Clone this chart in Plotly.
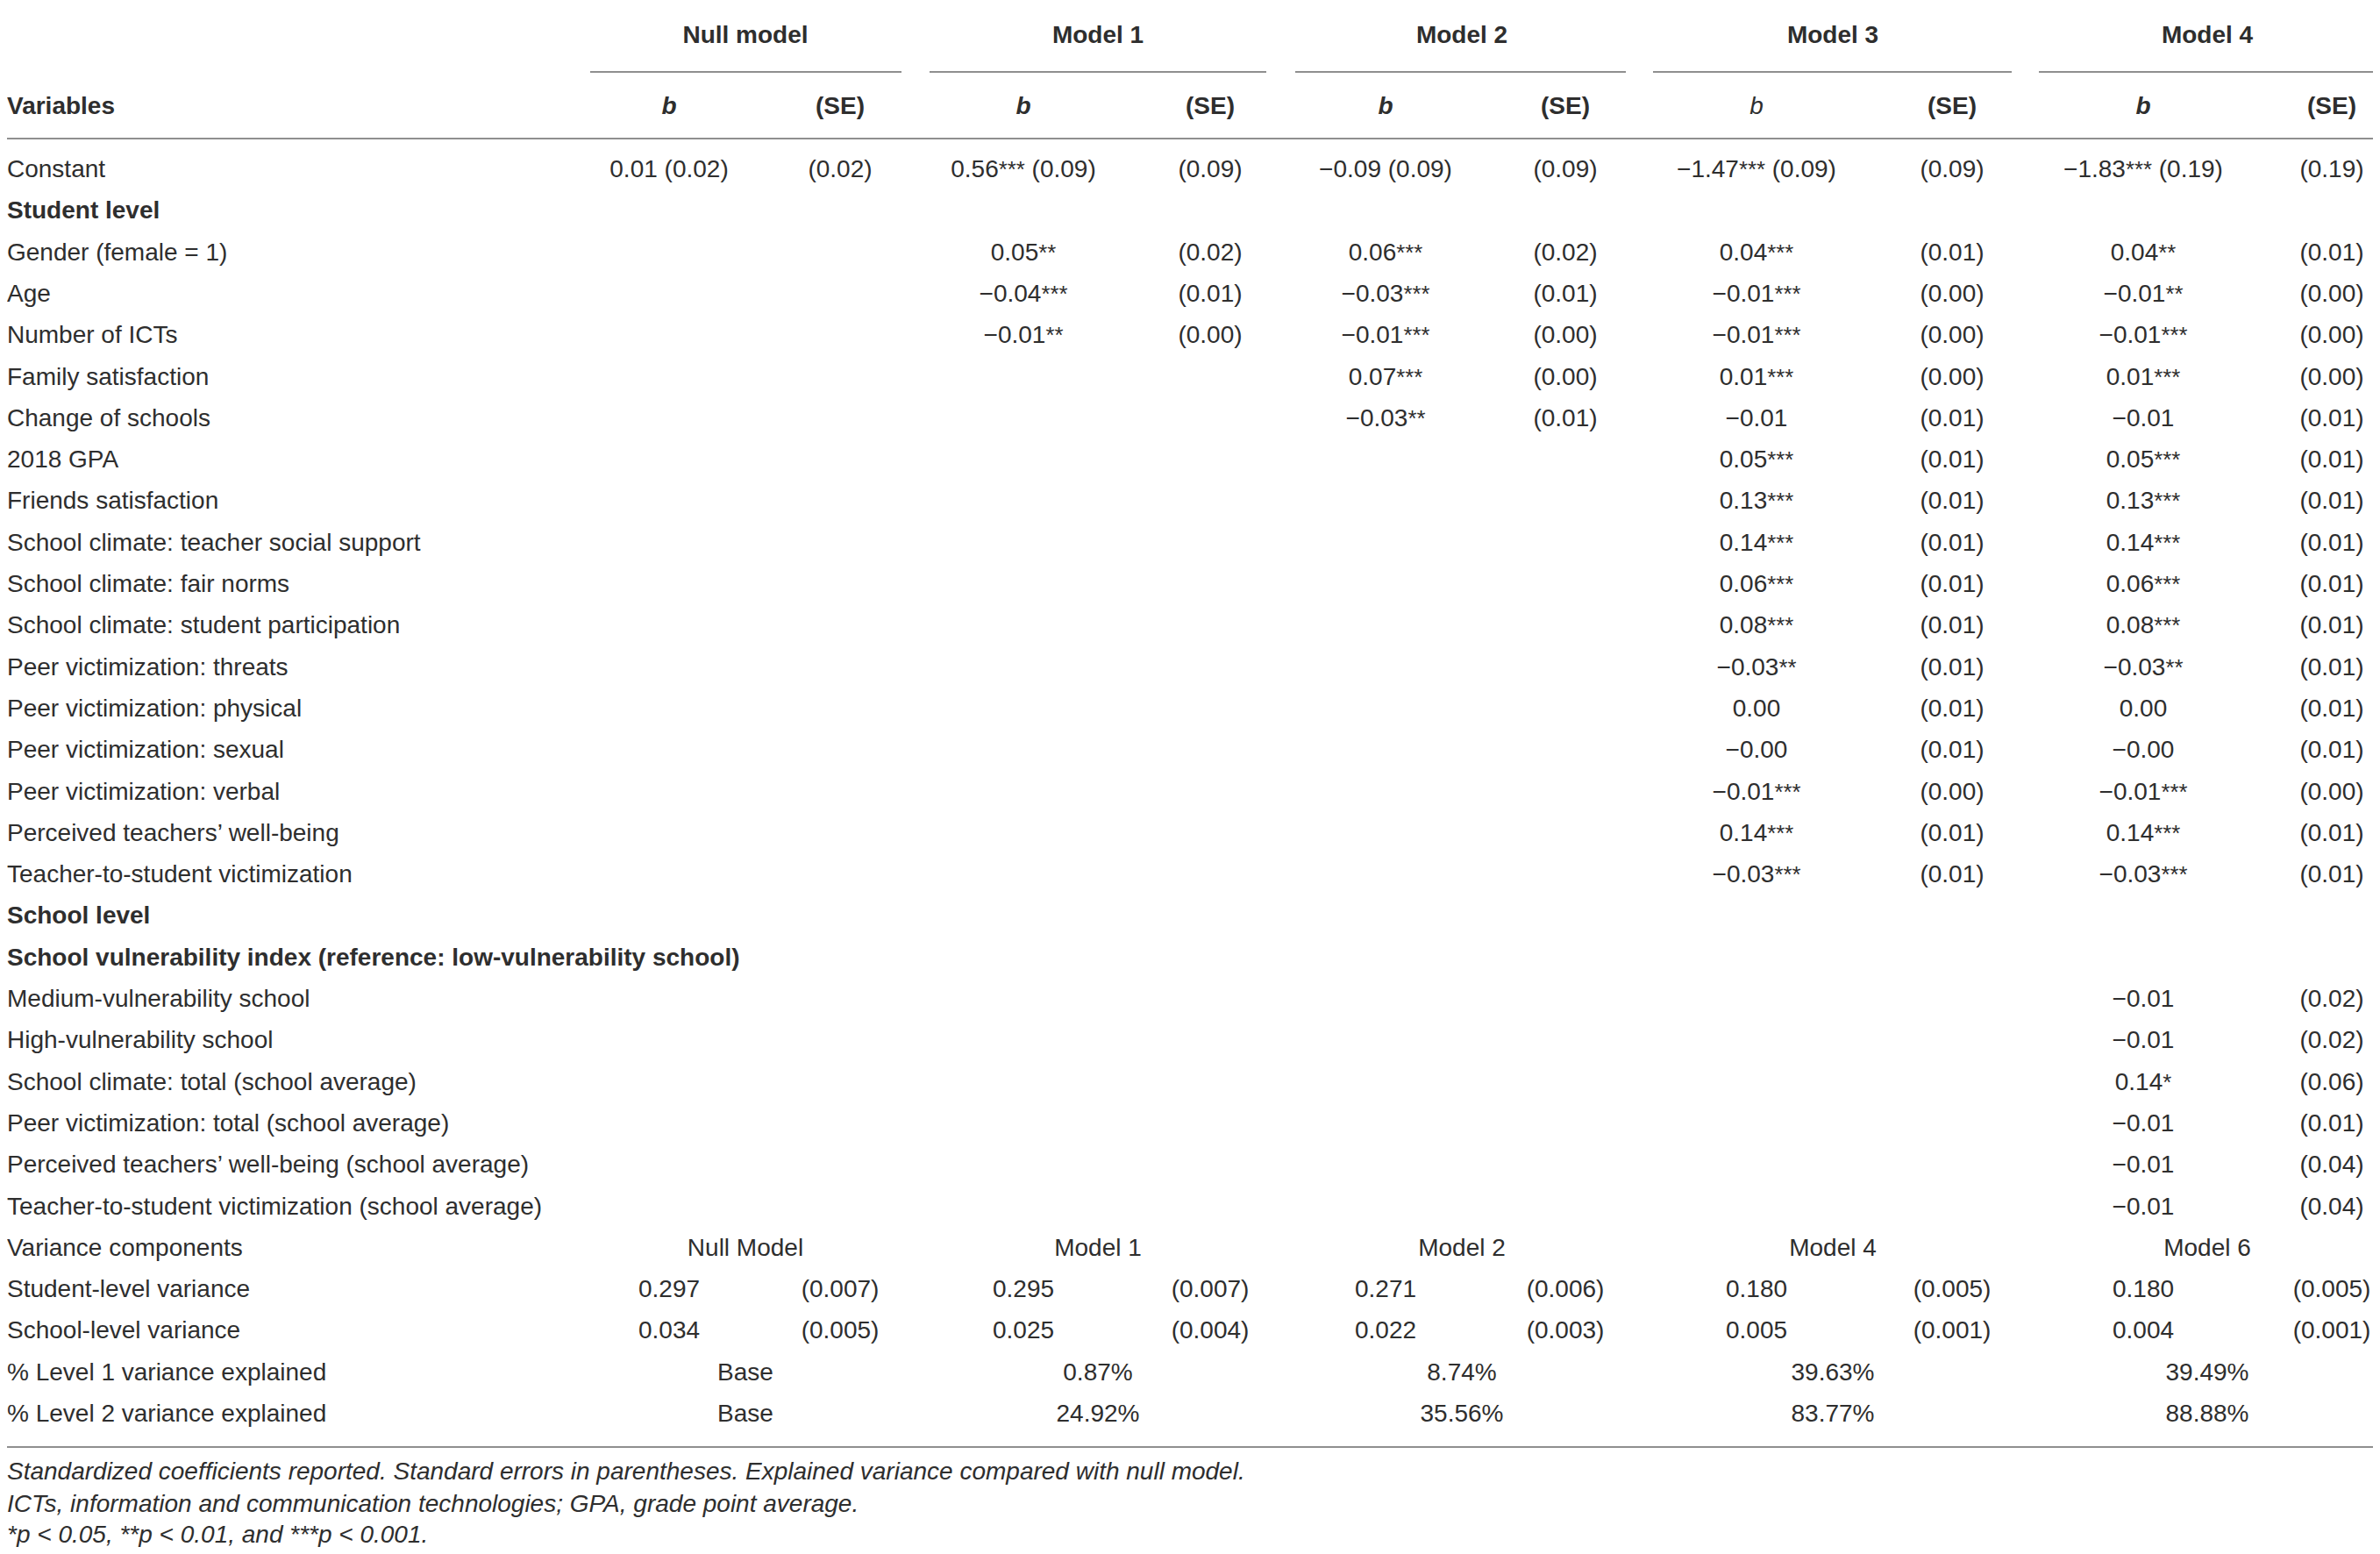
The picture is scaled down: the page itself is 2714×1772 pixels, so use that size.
#!/usr/bin/env python3
"""Multilevel regression table (null model to model 4), drawn as text marks
on a pixel-scaled Plotly canvas so the layout follows the printed table."""
import plotly.graph_objects as go

# ----- table content -----
MODEL_NAMES = ["Null model", "Model 1", "Model 2", "Model 3", "Model 4"]
VARIANCE_MODEL_NAMES = ["Null Model", "Model 1", "Model 2", "Model 4", "Model 6"]

ROW_LABELS = [
    "Constant", "Student level", "Gender (female = 1)", "Age", "Number of ICTs",
    "Family satisfaction", "Change of schools", "2018 GPA", "Friends satisfaction",
    "School climate: teacher social support", "School climate: fair norms",
    "School climate: student participation", "Peer victimization: threats",
    "Peer victimization: physical", "Peer victimization: sexual",
    "Peer victimization: verbal", "Perceived teachers\u2019 well-being",
    "Teacher-to-student victimization", "School level",
    "School vulnerability index (reference: low-vulnerability school)",
    "Medium-vulnerability school", "High-vulnerability school",
    "School climate: total (school average)", "Peer victimization: total (school average)",
    "Perceived teachers\u2019 well-being (school average)",
    "Teacher-to-student victimization (school average)",
    "Variance components", "Student-level variance", "School-level variance",
    "% Level 1 variance explained", "% Level 2 variance explained",
]
SECTION_ROWS = ["Student level", "School level",
                "School vulnerability index (reference: low-vulnerability school)"]

M = "\u2212"
# coefficient rows, aligned with ROW_LABELS[0:26]; "" = empty cell
NULL_B = ["0.01 (0.02)"]
NULL_SE = ["(0.02)"]
M1_B = ["0.56*** (0.09)", "", "0.05**", M + "0.04***", M + "0.01**"]
M1_SE = ["(0.09)", "", "(0.02)", "(0.01)", "(0.00)"]
M2_B = [M + "0.09 (0.09)", "", "0.06***", M + "0.03***", M + "0.01***", "0.07***", M + "0.03**"]
M2_SE = ["(0.09)", "", "(0.02)", "(0.01)", "(0.00)", "(0.00)", "(0.01)"]
M3_B = [M + "1.47*** (0.09)", "", "0.04***", M + "0.01***", M + "0.01***", "0.01***",
        M + "0.01", "0.05***", "0.13***", "0.14***", "0.06***", "0.08***", M + "0.03**",
        "0.00", M + "0.00", M + "0.01***", "0.14***", M + "0.03***"]
M3_SE = ["(0.09)", "", "(0.01)", "(0.00)", "(0.00)", "(0.00)", "(0.01)", "(0.01)", "(0.01)",
         "(0.01)", "(0.01)", "(0.01)", "(0.01)", "(0.01)", "(0.01)", "(0.00)", "(0.01)", "(0.01)"]
M4_B = [M + "1.83*** (0.19)", "", "0.04**", M + "0.01**", M + "0.01***", "0.01***",
        M + "0.01", "0.05***", "0.13***", "0.14***", "0.06***", "0.08***", M + "0.03**",
        "0.00", M + "0.00", M + "0.01***", "0.14***", M + "0.03***", "", "",
        M + "0.01", M + "0.01", "0.14*", M + "0.01", M + "0.01", M + "0.01"]
M4_SE = ["(0.19)", "", "(0.01)", "(0.00)", "(0.00)", "(0.00)", "(0.01)", "(0.01)", "(0.01)",
         "(0.01)", "(0.01)", "(0.01)", "(0.01)", "(0.01)", "(0.01)", "(0.00)", "(0.01)", "(0.01)",
         "", "", "(0.02)", "(0.02)", "(0.06)", "(0.01)", "(0.04)", "(0.04)"]

# variance components, one value per model
STUDENT_VAR = ["0.297", "0.295", "0.271", "0.180", "0.180"]
STUDENT_VAR_SE = ["(0.007)", "(0.007)", "(0.006)", "(0.005)", "(0.005)"]
SCHOOL_VAR = ["0.034", "0.025", "0.022", "0.005", "0.004"]
SCHOOL_VAR_SE = ["(0.005)", "(0.004)", "(0.003)", "(0.001)", "(0.001)"]
L1_EXPLAINED = ["Base", "0.87%", "8.74%", "39.63%", "39.49%"]
L2_EXPLAINED = ["Base", "24.92%", "35.56%", "83.77%", "88.88%"]

FOOTNOTES = [
    "Standardized coefficients reported. Standard errors in parentheses. "
    "Explained variance compared with null model.",
    "ICTs, information and communication technologies; GPA, grade point average.",
    "*p &lt; 0.05, **p &lt; 0.01, and ***p &lt; 0.001.",
]

# ----- geometry (reference pixels) -----
W, H = 2714, 1772
PAGE_PAD = 8          # default body margin of the html page
LEFT = 8
B_X = [763, 1167, 1580, 2003, 2444]
SE_X = [958, 1380, 1785, 2226, 2659]
GROUP_X = [850, 1252, 1667, 2090, 2517]
UNDERLINES = [(673, 1028), (1060, 1444), (1477, 1854), (1885, 2294), (2325, 2706)]
B_HEAD_BOLD = [True, True, True, False, True]
Y_MODEL, Y_HEAD, Y_ROW0, DY = 42, 123, 195, 47.3
Y_FOOT = [1680, 1717, 1752]

FONT = "Liberation Sans, Arial, Helvetica, sans-serif"
SIZE = 28
INK = "#2e2e2e"
RULE = "#8f8f8f"


def fmt(v):
    """significance stars set a little smaller, as in the print"""
    head, sep, tail = v.partition(" ")
    core = head.rstrip("*")
    stars = head[len(core):]
    out = core + (f'<span style="font-size:92%">{stars}</span>' if stars else "")
    return out + (sep + tail if sep else "")


def row_y(i):
    return Y_ROW0 + i * DY


def text_trace(xs, ys, texts, pos="middle center", size=SIZE):
    return go.Scatter(x=xs, y=ys, text=texts, mode="text", textposition=pos,
                      textfont=dict(family=FONT, size=size, color=INK),
                      hoverinfo="skip", showlegend=False, cliponaxis=False)


fig = go.Figure()

# header
fig.add_trace(text_trace(GROUP_X, [Y_MODEL] * 5, [f"<b>{m}</b>" for m in MODEL_NAMES]))
fig.add_trace(text_trace([LEFT], [Y_HEAD], ["<b>Variables</b>"], pos="middle right"))
fig.add_trace(text_trace(B_X, [Y_HEAD] * 5,
                         ["<b><i>b</i></b>" if bold else "<i>b</i>" for bold in B_HEAD_BOLD]))
fig.add_trace(text_trace(SE_X, [Y_HEAD] * 5, ["<b>(SE)</b>"] * 5))

# row labels
labels = [f"<b>{r}</b>" if r in SECTION_ROWS else r for r in ROW_LABELS]
fig.add_trace(text_trace([LEFT] * len(labels), [row_y(i) for i in range(len(labels))],
                         labels, pos="middle right"))

# coefficients
for k, (bs, ses) in enumerate([(NULL_B, NULL_SE), (M1_B, M1_SE), (M2_B, M2_SE),
                               (M3_B, M3_SE), (M4_B, M4_SE)]):
    idx = [i for i, v in enumerate(bs) if v]
    fig.add_trace(text_trace([B_X[k]] * len(idx), [row_y(i) for i in idx],
                             [fmt(bs[i]) for i in idx]))
    idx = [i for i, v in enumerate(ses) if v]
    fig.add_trace(text_trace([SE_X[k]] * len(idx), [row_y(i) for i in idx],
                             [ses[i] for i in idx]))

# variance components block
r0 = ROW_LABELS.index("Variance components")
fig.add_trace(text_trace(GROUP_X, [row_y(r0)] * 5, VARIANCE_MODEL_NAMES))
fig.add_trace(text_trace(B_X, [row_y(r0 + 1)] * 5, STUDENT_VAR))
fig.add_trace(text_trace(SE_X, [row_y(r0 + 1)] * 5, STUDENT_VAR_SE))
fig.add_trace(text_trace(B_X, [row_y(r0 + 2)] * 5, SCHOOL_VAR))
fig.add_trace(text_trace(SE_X, [row_y(r0 + 2)] * 5, SCHOOL_VAR_SE))
fig.add_trace(text_trace(GROUP_X, [row_y(r0 + 3)] * 5, L1_EXPLAINED))
fig.add_trace(text_trace(GROUP_X, [row_y(r0 + 4)] * 5, L2_EXPLAINED))

# footnotes
fig.add_trace(text_trace([LEFT] * 3, Y_FOOT, [f"<i>{t}</i>" for t in FOOTNOTES],
                         pos="middle right"))

# rules
shapes = [dict(type="line", x0=LEFT, x1=W - PAGE_PAD, y0=y, y1=y,
               line=dict(color=RULE, width=2)) for y in (5, 158, 1650)]
shapes += [dict(type="line", x0=a, x1=b, y0=82, y1=82, line=dict(color=RULE, width=2))
           for a, b in UNDERLINES]

# the page sits inside an 8px body margin: shrink the canvas by that much and
# offset the axis ranges so reference pixel coordinates land in place
fig.update_layout(
    width=W - 2 * PAGE_PAD, height=H - 2 * PAGE_PAD, margin=dict(l=0, r=0, t=0, b=0),
    plot_bgcolor="white", paper_bgcolor="white", shapes=shapes, hovermode=False,
    xaxis=dict(range=[PAGE_PAD, W - PAGE_PAD], visible=False, fixedrange=True),
    yaxis=dict(range=[H - PAGE_PAD, PAGE_PAD], visible=False, fixedrange=True),
)
fig.write_html("out.html", config={"displayModeBar": False})
